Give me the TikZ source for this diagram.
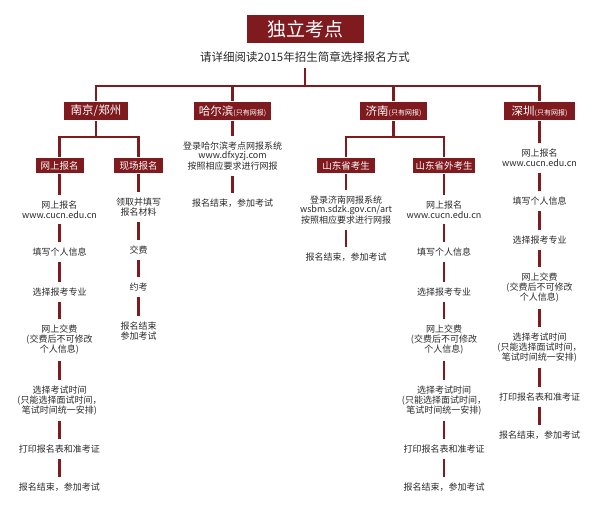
\documentclass[tikz,border=0pt]{standalone}
\usepackage{fontspec}
\setmainfont{Noto Sans CJK SC}
\definecolor{myred}{HTML}{7F1A1E}
\definecolor{txtgray}{HTML}{2B2B2B}
\newcommand{\citysize}{\fontsize{11.5}{12}\selectfont}
\newcommand{\smallnote}[1]{{\fontsize{7}{7}\selectfont #1}}
\begin{document}
\begin{tikzpicture}[x=1pt,y=-1pt,
  every path/.style={draw=myred, line width=2.6pt},
  redbox/.style={fill=myred, text=white, inner sep=0pt, minimum height=15pt, font=\fontsize{9.5}{10}\selectfont},
  citybox/.style={redbox, minimum height=18pt, font=\citysize},
  txt/.style={text=txtgray, align=center, font=\fontsize{9}{10}\selectfont, inner xsep=0pt, inner ysep=4.5pt},
  tight/.style={txt, font=\fontsize{9}{9.3}\selectfont}]
\useasboundingbox[fill=white, draw=none] (0,0) rectangle (600,518);

% title
\node[redbox, minimum width=117pt, minimum height=28pt, font=\fontsize{19}{19}\selectfont] (title) at (305.5,29) {独立考点};
\node[text=txtgray, font=\fontsize{11.5}{12}\selectfont, inner sep=4pt] (sub) at (305,57) {请详细阅读2015年招生简章选择报名方式};
\coordinate (bus) at (305,86);

% cities
\node[citybox, minimum width=64pt] (nj) at (96,111) {南京/郑州};
\node[citybox, minimum width=77pt] (hrb) at (232.5,111) {哈尔滨\smallnote{(只有网报)}};
\node[citybox, minimum width=67pt] (jn) at (393.5,111) {济南\smallnote{(只有网报)}};
\node[citybox, minimum width=71pt] (sz) at (539.5,111) {深圳\smallnote{(只有网报)}};

\draw (sub) -- (bus);
\draw (nj.north) -- (nj.north |- bus) -- (sz.north |- bus) -- (sz.north);
\draw (hrb.north) -- (hrb.north |- bus);
\draw (jn.north) -- (jn.north |- bus);

% second level boxes
\node[redbox, minimum width=48pt] (ws) at (59.5,165.5) {网上报名};
\node[redbox, minimum width=49pt] (xc) at (138.5,165.5) {现场报名};
\node[redbox, minimum width=58pt] (sd) at (346,165.5) {山东省考生};
\node[redbox, minimum width=62pt] (sw) at (444,165.5) {山东省外考生};

\coordinate (nb) at (97,137);
\coordinate (jb) at (394,137);
\draw (nj.south) -- (nj.south |- nb);
\draw (ws.north) -- (ws.north |- nb) -- (xc.north |- nb) -- (xc.north);
\draw (jn.south) -- (jn.south |- jb);
\draw (sd.north) -- (sd.north |- jb) -- (sw.north |- jb) -- (sw.north);

% left column (网上报名)
\node[txt] (l1) at (59.5,209.5) {网上报名\\www.cucn.edu.cn};
\node[txt] (l2) at (59.5,252) {填写个人信息};
\node[txt] (l3) at (59.5,292) {选择报考专业};
\node[txt] (l4) at (59.5,340) {网上交费\\(交费后不可修改\\个人信息)};
\node[txt] (l5) at (59.5,400.5) {选择考试时间\\(只能选择面试时间，\\笔试时间统一安排)};
\node[txt] (l6) at (59.5,449) {打印报名表和准考证};
\node[txt] (l7) at (59.5,487) {报名结束，参加考试};
\draw (ws) -- (l1);
\draw (l1) -- (l2);
\draw (l2) -- (l3);
\draw (l3) -- (l4);
\draw (l4) -- (l5);
\draw (l5) -- (l6);
\draw (l6) -- (l7);

% 现场报名
\node[txt] (x1) at (138.5,207) {领取并填写\\报名材料};
\node[txt] (x2) at (138.5,250) {交费};
\node[txt] (x3) at (138.5,287) {约考};
\node[txt] (x4) at (138.5,331) {报名结束\\参加考试};
\draw (xc) -- (x1);
\draw (x1) -- (x2);
\draw (x2) -- (x3);
\draw (x3) -- (x4);

% 哈尔滨
\node[tight] (h1) at (232.5,156) {登录哈尔滨考点网报系统\\www.dfxyzj.com\\按照相应要求进行网报};
\node[txt] (h2) at (232.5,203) {报名结束，参加考试};
\draw (hrb) -- (h1);
\draw (h1) -- (h2);

% 山东省考生
\node[tight] (s1) at (346,210) {登录济南网报系统\\wsbm.sdzk.gov.cn/art\\按照相应要求进行网报};
\node[txt] (s2) at (346,257) {报名结束，参加考试};
\draw (sd) -- (s1);
\draw (s1) -- (s2);

% 山东省外考生
\node[txt] (w1) at (444,209.5) {网上报名\\www.cucn.edu.cn};
\node[txt] (w2) at (444,252) {填写个人信息};
\node[txt] (w3) at (444,292) {选择报考专业};
\node[txt] (w4) at (444,340) {网上交费\\(交费后不可修改\\个人信息)};
\node[txt] (w5) at (444,400.5) {选择考试时间\\(只能选择面试时间，\\笔试时间统一安排)};
\node[txt] (w6) at (444,449) {打印报名表和准考证};
\node[txt] (w7) at (444,487) {报名结束，参加考试};
\draw (sw) -- (w1);
\draw (w1) -- (w2);
\draw (w2) -- (w3);
\draw (w3) -- (w4);
\draw (w4) -- (w5);
\draw (w5) -- (w6);
\draw (w6) -- (w7);

% 深圳
\node[txt] (z1) at (539.5,158) {网上报名\\www.cucn.edu.cn};
\node[txt] (z2) at (539.5,201) {填写个人信息};
\node[txt] (z3) at (539.5,240) {选择报考专业};
\node[txt] (z4) at (539.5,288) {网上交费\\(交费后不可修改\\个人信息)};
\node[txt] (z5) at (539.5,347.5) {选择考试时间\\(只能选择面试时间，\\笔试时间统一安排)};
\node[txt] (z6) at (539.5,397) {打印报名表和准考证};
\node[txt] (z7) at (539.5,435) {报名结束，参加考试};
\draw (sz) -- (z1);
\draw (z1) -- (z2);
\draw (z2) -- (z3);
\draw (z3) -- (z4);
\draw (z4) -- (z5);
\draw (z5) -- (z6);
\draw (z6) -- (z7);
\end{tikzpicture}
\end{document}
